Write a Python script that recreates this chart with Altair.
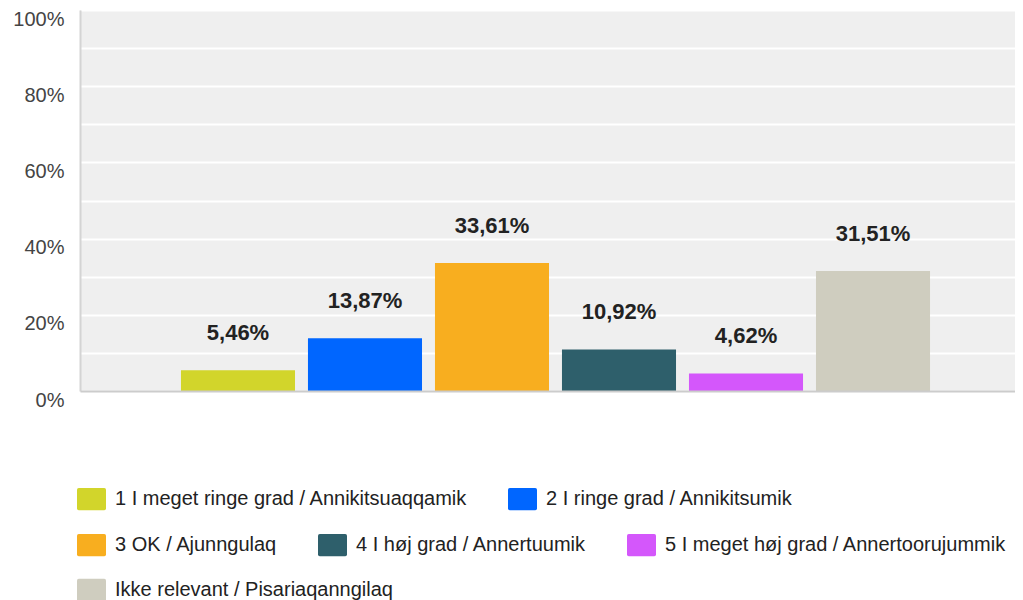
import altair as alt
import pandas as pd

categories = [
    "1 I meget ringe grad / Annikitsuaqqamik",
    "2 I ringe grad / Annikitsumik",
    "3 OK / Ajunngulaq",
    "4 I høj grad / Annertuumik",
    "5 I meget høj grad / Annertoorujummik",
    "Ikke relevant / Pisariaqanngilaq",
]
values = [5.46, 13.87, 33.61, 10.92, 4.62, 31.51]
value_labels = ["5,46%", "13,87%", "33,61%", "10,92%", "4,62%", "31,51%"]
colors = ["#d2d52b", "#0066ff", "#f8ae1f", "#2e5f6b", "#d457fb", "#cfcdbf"]
legend_rows = [[0, 1], [2, 3, 4], [5]]
y_ticks = [0, 0.1, 0.2, 0.3, 0.4, 0.5, 0.6, 0.7, 0.8, 0.9, 1.0]

df = pd.DataFrame({
    "cat": categories,
    "value": [v / 100 for v in values],
    "label": value_labels,
})

FONT = "Liberation Sans"
rect_path = ("M-0.88,-0.77L0.88,-0.77Q1,-0.77 1,-0.65L1,0.65Q1,0.77 0.88,0.77"
             "L-0.88,0.77Q-1,0.77 -1,0.65L-1,-0.65Q-1,-0.77 -0.88,-0.77Z")

x_enc = alt.X(
    "cat:N",
    sort=categories,
    scale=alt.Scale(domain=categories, paddingInner=0.102, paddingOuter=0.732, align=0.543),
    axis=alt.Axis(labels=False, ticks=False, title=None, domainColor="#cccccc",
                  domainWidth=2, grid=False, zindex=1),
)
y_enc = alt.Y(
    "value:Q",
    scale=alt.Scale(domain=[0, 1], nice=False),
    axis=alt.Axis(
        values=y_ticks, title=None, ticks=False, grid=True, gridColor="#ffffff",
        gridWidth=2, domainColor="#d4d4d4", domainWidth=2, labelPadding=16,
        labelOffset=9, labelFont=FONT, labelFontSize=20, labelColor="#444444",
        labelExpr="round(datum.value*100) % 20 == 0 ? format(datum.value, '.0%') : ''",
    ),
)

legend_y = [474.5, 520.5, 565.5]
layers = []
for r, idxs in enumerate(legend_rows):
    sub = df.iloc[idxs]
    layers.append(
        alt.Chart(sub).mark_bar().encode(
            x=x_enc,
            y=y_enc,
            color=alt.Color(
                "cat:N",
                scale=alt.Scale(domain=[categories[i] for i in idxs],
                                range=[colors[i] for i in idxs]),
                legend=alt.Legend(
                    orient="none", legendX=-3, legendY=legend_y[r],
                    direction="horizontal", title=None, symbolType=rect_path,
                    symbolSize=841, symbolStrokeWidth=0, symbolOpacity=1,
                    labelFont=FONT, labelFontSize=20, labelColor="#222222",
                    labelOffset=9, columnPadding=40, labelLimit=700,
                ),
            ),
        )
    )

text = alt.Chart(df).mark_text(
    dy=-30, font=FONT, fontSize=22, fontWeight="bold", color="#222222", baseline="alphabetic"
).encode(x=x_enc, y=y_enc, text="label:N")

chart = (
    alt.layer(*layers, text)
    .resolve_scale(color="independent")
    .properties(
        width=935, height=381,
        autosize=alt.AutoSizeParams(type="none"),
        padding={"left": 72, "top": 2, "right": 0, "bottom": 209},
        background="#ffffff",
    )
    .configure_view(fill="#efefef", strokeWidth=0)
)

chart.save("out.html", embed_options={"renderer": "svg", "actions": False})
